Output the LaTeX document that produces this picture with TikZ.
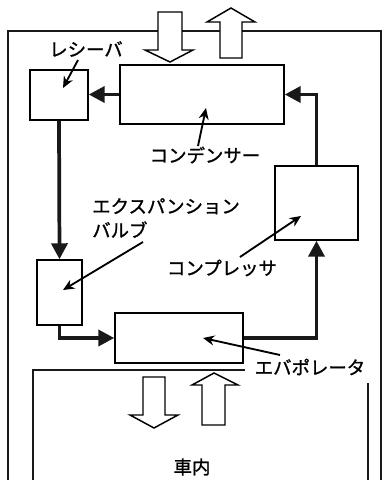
\documentclass[tikz,border=0pt]{standalone}
\usepackage{fontspec}
\newfontfamily\jp[FakeBold=1.2]{Noto Sans CJK JP}
\usetikzlibrary{arrows.meta,calc}
\begin{document}
\begin{tikzpicture}[x=0.75pt,y=-0.75pt,
  wall/.style={line width=1.1pt,black!90},
  unit/.style={draw,line width=1.1pt,inner sep=0pt},
  flow/.style={line width=2.8pt,black!90,-{Triangle[length=12pt,width=12pt]}},
  pointer/.style={line width=1.4pt,-{Stealth[length=8.5pt,width=7.5pt]}},
  lbl/.style={font=\jp\fontsize{13.8}{17}\selectfont,inner sep=0pt},
  blockarrow/.style={draw,fill=white,line width=1.1pt,line join=miter}]
\useasboundingbox (0,0) rectangle (385,480);
% outer box (outside) and cabin box
\draw[wall] (8,480) -- (8,31) -- (381,31) -- (381,480);
\draw[wall] (33,480) -- (33,370) -- (245,370);
\draw[wall] (368,383) -- (368,480);
% block arrows (air flow)
\path[blockarrow] (158,12) -- (182,12) -- (182,50) -- (193,50) -- (170,62) -- (145,50) -- (158,50) -- cycle;
\path[blockarrow] (220,58) -- (242,58) -- (242,22) -- (255,22) -- (231,8) -- (207,22) -- (220,22) -- cycle;
\path[blockarrow] (143,377) -- (165,377) -- (165,415) -- (178,415) -- (154,428) -- (130,415) -- (143,415) -- cycle;
\path[blockarrow] (202,425) -- (225,425) -- (225,385) -- (238,385) -- (214,373) -- (192,385) -- (202,385) -- cycle;
% units
\node[unit,minimum width=43.5pt,minimum height=37.5pt] (recv) at (59,95) {};
\node[unit,minimum width=123pt,minimum height=44.25pt] (cond) at (202,94.5) {};
\node[unit,minimum width=33.75pt,minimum height=48.75pt] (valve) at (59.5,292.5) {};
\node[unit,minimum width=96pt,minimum height=37.5pt] (evap) at (179,338) {};
\node[unit,minimum width=62.25pt,minimum height=55.5pt] (comp) at (316.5,203) {};
% refrigerant flow
\draw[flow] (cond.west) -- (recv.east |- cond.west);
\draw[flow] (recv.south) -- (valve.north);
\draw[flow] (valve.south) |- (evap.west);
\draw[flow] (evap.east) -| (comp.south);
\draw[flow] (comp.north) |- (cond.east);
% labels
\node[lbl] (lrecv) at (86,49) {レシーバ};
\node[lbl] (lcond) at (205,155) {コンデンサー};
\node[lbl,align=left,anchor=north west] (lvalve) at (92,198) {エクスパンション\\[1pt]バルブ};
\node[lbl] (lcomp) at (222,268) {コンプレッサ};
\node[lbl] (levap) at (310,367) {エバポレータ};
\node[lbl] (lcabin) at (192,467) {車内};
% pointers
\coordinate (precv0) at (78,60);  \coordinate (precv1) at (63,88);
\coordinate (pcond0) at (198,146); \coordinate (pcond1) at (206,108);
\coordinate (pvalve0) at (143,242); \coordinate (pvalve1) at (63,290);
\coordinate (pcomp0) at (240,257); \coordinate (pcomp1) at (301,216);
\coordinate (pevap0) at (280,355); \coordinate (pevap1) at (203,338);
\draw[pointer] (precv0) -- (precv1);
\draw[pointer] (pcond0) -- (pcond1);
\draw[pointer] (pvalve0) -- (pvalve1);
\draw[pointer] (pcomp0) -- (pcomp1);
\draw[pointer] (pevap0) -- (pevap1);
\end{tikzpicture}
\end{document}
